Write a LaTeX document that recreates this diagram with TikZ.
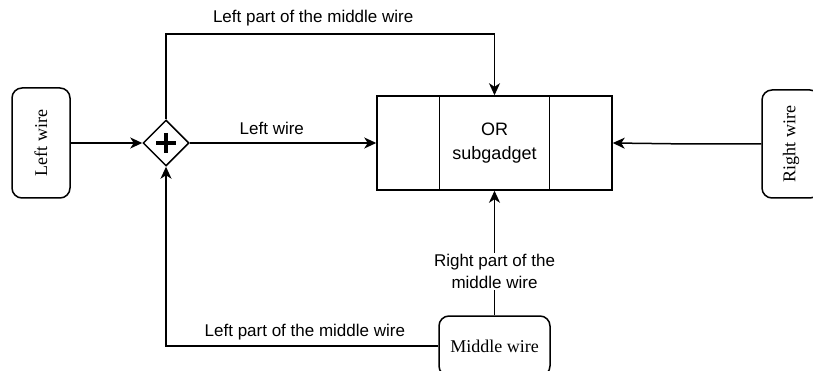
\documentclass[tikz,border=0pt]{standalone}
\usepackage{fontspec}
\setmainfont{Liberation Serif}
\setsansfont{Liberation Sans}
\usetikzlibrary{arrows.meta,shapes.geometric,calc}
\tikzset{
  wirebox/.style={draw, rounded corners=10pt, line width=1.5pt, inner sep=0pt,
    font=\rmfamily\fontsize{18}{22}\selectfont},
  conn/.style={line width=1.5pt, -{Stealth[length=12pt,width=11pt,inset=3.5pt]}},
  lbl/.style={font=\sffamily\fontsize{17}{22}\selectfont, inner sep=1pt, align=center},
}
\begin{document}
\begin{tikzpicture}[x=1pt,y=-1pt]
\useasboundingbox (0,0) rectangle (813,371);
\begin{scope}
\clip (0,0) rectangle (813,371);
% boxes
\node[wirebox, rotate=90, minimum width=110, minimum height=58] (lw) at (41,143) {Left wire};
\node[wirebox, rotate=90, minimum width=108, minimum height=58] (rw) at (791,144) {Right wire};
\node[wirebox, minimum width=111, minimum height=60] (mw) at (494.5,346) {Middle wire};
\node[draw, line width=1.5pt, minimum width=235, minimum height=94, align=center,
  font=\sffamily\fontsize{18}{24}\selectfont] (or) at (494.5,143) {OR\\subgadget};
\draw[line width=1.5pt] ($(or.north west)+(63,0)$) -- ($(or.south west)+(63,0)$);
\draw[line width=1.5pt] ($(or.north west)+(173,0)$) -- ($(or.south west)+(173,0)$);
% gateway
\node[draw, diamond, line width=1.5pt, minimum width=46, minimum height=46, inner sep=0pt] (gw) at (166,143) {};
\draw[line width=4.5pt] ($(gw.center)+(-10,0)$) -- ($(gw.center)+(10,0)$);
\draw[line width=4.5pt] ($(gw.center)+(0,-10)$) -- ($(gw.center)+(0,10)$);
% connectors
\coordinate (k) at (690,144);
\draw[conn] (lw.south) -- (gw.west);
\draw[conn] (gw.east) -- node[lbl, pos=0.44, yshift=15] (l1) {Left wire} (or.west);
\draw[conn] (gw.north) -- ++(0,-85) -| node[lbl, pos=0.224, yshift=16] (l2) {Left part of the middle wire} (or.north);
\draw[conn] (rw.north) -- (k) -- (or.east);
\draw[conn] (mw.north) -- node[lbl, pos=0.35, fill=white] (l3) {Right part of the\\middle wire} (or.south);
\draw[conn] (mw.west) -| node[lbl, pos=0.245, yshift=14] (l4) {Left part of the middle wire} (gw.south);
\end{scope}
\end{tikzpicture}
\end{document}
